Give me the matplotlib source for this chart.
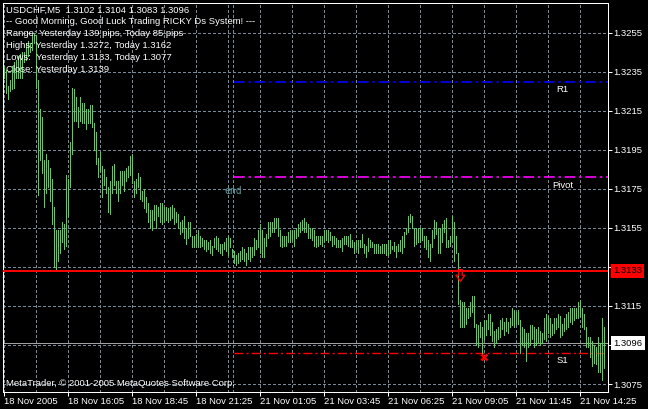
import numpy as np
import matplotlib
matplotlib.use('Agg')
import matplotlib.pyplot as plt
from matplotlib.path import Path

# M5 bars, high / low per bar (18 Nov 13:25 .. 21 Nov 15:25)
highs = [
    1.3238, 1.3236, 1.3228, 1.3231, 1.3238, 1.3240, 1.3241, 1.3243, 1.3244, 1.3245,
    1.3245, 1.3250, 1.3251, 1.3250, 1.3255, 1.3255, 1.3254, 1.3231, 1.3216, 1.3212,
    1.3190, 1.3193, 1.3190, 1.3186, 1.3180, 1.3166, 1.3154, 1.3154, 1.3154, 1.3158,
    1.3157, 1.3182, 1.3180, 1.3199, 1.3227, 1.3226, 1.3222, 1.3217, 1.3222, 1.3219,
    1.3219, 1.3216, 1.3216, 1.3218, 1.3218, 1.3209, 1.3204, 1.3191, 1.3194, 1.3187,
    1.3185, 1.3181, 1.3176, 1.3179, 1.3187, 1.3188, 1.3179, 1.3179, 1.3184, 1.3184,
    1.3184, 1.3186, 1.3187, 1.3192, 1.3193, 1.3179, 1.3180, 1.3183, 1.3181, 1.3174,
    1.3175, 1.3171, 1.3168, 1.3164, 1.3164, 1.3167, 1.3167, 1.3166, 1.3168, 1.3168,
    1.3166, 1.3166, 1.3165, 1.3166, 1.3167, 1.3165, 1.3163, 1.3162, 1.3158, 1.3159,
    1.3161, 1.3155, 1.3158, 1.3158, 1.3151, 1.3151, 1.3152, 1.3154, 1.3151, 1.3150,
    1.3149, 1.3149, 1.3148, 1.3149, 1.3146, 1.3150, 1.3151, 1.3150, 1.3147, 1.3147,
    1.3148, 1.3150, 1.3151, 1.3150, 1.3144, 1.3143, 1.3141, 1.3142, 1.3143, 1.3145,
    1.3144, 1.3142, 1.3145, 1.3145, 1.3145, 1.3150, 1.3149, 1.3154, 1.3157, 1.3154,
    1.3150, 1.3152, 1.3158, 1.3158, 1.3158, 1.3160, 1.3160, 1.3160, 1.3154, 1.3151,
    1.3151, 1.3151, 1.3153, 1.3154, 1.3154, 1.3154, 1.3155, 1.3157, 1.3158, 1.3159,
    1.3160, 1.3158, 1.3157, 1.3155, 1.3155, 1.3154, 1.3151, 1.3151, 1.3151, 1.3151,
    1.3154, 1.3154, 1.3154, 1.3153, 1.3151, 1.3151, 1.3150, 1.3149, 1.3149, 1.3150,
    1.3151, 1.3151, 1.3151, 1.3152, 1.3149, 1.3148, 1.3149, 1.3149, 1.3149, 1.3152,
    1.3147, 1.3146, 1.3150, 1.3149, 1.3148, 1.3147, 1.3147, 1.3147, 1.3146, 1.3147,
    1.3147, 1.3147, 1.3149, 1.3149, 1.3146, 1.3148, 1.3146, 1.3147, 1.3149, 1.3151,
    1.3153, 1.3155, 1.3161, 1.3162, 1.3161, 1.3155, 1.3155, 1.3155, 1.3155, 1.3155,
    1.3151, 1.3151, 1.3149, 1.3147, 1.3154, 1.3159, 1.3158, 1.3155, 1.3155, 1.3157,
    1.3159, 1.3160, 1.3149, 1.3151, 1.3161, 1.3158, 1.3151, 1.3142, 1.3118, 1.3117,
    1.3117, 1.3114, 1.3114, 1.3117, 1.3120, 1.3120, 1.3106, 1.3105, 1.3107, 1.3104,
    1.3108, 1.3108, 1.3111, 1.3111, 1.3107, 1.3102, 1.3103, 1.3104, 1.3108, 1.3109,
    1.3107, 1.3109, 1.3107, 1.3109, 1.3114, 1.3113, 1.3112, 1.3113, 1.3108, 1.3104,
    1.3103, 1.3101, 1.3101, 1.3105, 1.3105, 1.3104, 1.3103, 1.3104, 1.3102, 1.3101,
    1.3109, 1.3111, 1.3110, 1.3109, 1.3106, 1.3109, 1.3109, 1.3111, 1.3110, 1.3106,
    1.3109, 1.3111, 1.3112, 1.3114, 1.3114, 1.3114, 1.3114, 1.3117, 1.3118, 1.3114,
    1.3111, 1.3104, 1.3099, 1.3099, 1.3097, 1.3095, 1.3094, 1.3099, 1.3096, 1.3109,
    1.3104,
]
lows = [
    1.3232, 1.3224, 1.3221, 1.3225, 1.3226, 1.3227, 1.3232, 1.3232, 1.3232, 1.3232,
    1.3240, 1.3241, 1.3243, 1.3245, 1.3246, 1.3250, 1.3227, 1.3172, 1.3190, 1.3183,
    1.3166, 1.3173, 1.3176, 1.3169, 1.3157, 1.3135, 1.3133, 1.3138, 1.3142, 1.3148,
    1.3144, 1.3146, 1.3161, 1.3176, 1.3193, 1.3210, 1.3210, 1.3207, 1.3210, 1.3209,
    1.3209, 1.3206, 1.3209, 1.3209, 1.3207, 1.3195, 1.3188, 1.3181, 1.3184, 1.3171,
    1.3177, 1.3173, 1.3163, 1.3162, 1.3173, 1.3177, 1.3173, 1.3169, 1.3173, 1.3177,
    1.3174, 1.3179, 1.3181, 1.3182, 1.3178, 1.3171, 1.3173, 1.3176, 1.3170, 1.3169,
    1.3165, 1.3163, 1.3158, 1.3155, 1.3154, 1.3159, 1.3155, 1.3161, 1.3158, 1.3157,
    1.3158, 1.3159, 1.3158, 1.3159, 1.3160, 1.3157, 1.3158, 1.3155, 1.3152, 1.3153,
    1.3150, 1.3147, 1.3150, 1.3151, 1.3145, 1.3145, 1.3146, 1.3145, 1.3145, 1.3146,
    1.3144, 1.3143, 1.3144, 1.3142, 1.3141, 1.3145, 1.3144, 1.3143, 1.3142, 1.3141,
    1.3144, 1.3143, 1.3141, 1.3145, 1.3140, 1.3137, 1.3136, 1.3137, 1.3138, 1.3139,
    1.3138, 1.3136, 1.3139, 1.3138, 1.3140, 1.3141, 1.3144, 1.3145, 1.3142, 1.3140,
    1.3140, 1.3146, 1.3150, 1.3151, 1.3153, 1.3153, 1.3155, 1.3151, 1.3146, 1.3145,
    1.3146, 1.3146, 1.3148, 1.3148, 1.3149, 1.3146, 1.3150, 1.3151, 1.3153, 1.3154,
    1.3153, 1.3153, 1.3150, 1.3150, 1.3149, 1.3146, 1.3145, 1.3146, 1.3147, 1.3146,
    1.3148, 1.3149, 1.3148, 1.3149, 1.3146, 1.3147, 1.3145, 1.3145, 1.3145, 1.3143,
    1.3147, 1.3147, 1.3146, 1.3145, 1.3145, 1.3142, 1.3144, 1.3142, 1.3145, 1.3145,
    1.3142, 1.3140, 1.3143, 1.3145, 1.3145, 1.3142, 1.3142, 1.3142, 1.3142, 1.3142,
    1.3142, 1.3141, 1.3141, 1.3142, 1.3144, 1.3143, 1.3140, 1.3143, 1.3143, 1.3142,
    1.3145, 1.3152, 1.3153, 1.3158, 1.3155, 1.3146, 1.3147, 1.3148, 1.3148, 1.3149,
    1.3145, 1.3144, 1.3140, 1.3138, 1.3145, 1.3150, 1.3152, 1.3142, 1.3142, 1.3148,
    1.3153, 1.3145, 1.3145, 1.3146, 1.3148, 1.3138, 1.3142, 1.3116, 1.3104, 1.3104,
    1.3104, 1.3106, 1.3109, 1.3110, 1.3112, 1.3104, 1.3095, 1.3094, 1.3099, 1.3090,
    1.3098, 1.3100, 1.3103, 1.3100, 1.3097, 1.3094, 1.3096, 1.3098, 1.3099, 1.3103,
    1.3100, 1.3102, 1.3101, 1.3104, 1.3105, 1.3104, 1.3106, 1.3106, 1.3091, 1.3095,
    1.3094, 1.3087, 1.3094, 1.3095, 1.3098, 1.3094, 1.3095, 1.3096, 1.3095, 1.3096,
    1.3098, 1.3097, 1.3101, 1.3099, 1.3100, 1.3101, 1.3103, 1.3104, 1.3099, 1.3100,
    1.3102, 1.3103, 1.3104, 1.3107, 1.3106, 1.3108, 1.3109, 1.3109, 1.3110, 1.3104,
    1.3103, 1.3094, 1.3094, 1.3089, 1.3084, 1.3086, 1.3085, 1.3081, 1.3081, 1.3077,
    1.3083,
]

time_labels = ['18 Nov 2005', '18 Nov 16:05', '18 Nov 18:45', '18 Nov 21:25',
               '21 Nov 01:05', '21 Nov 03:45', '21 Nov 06:25', '21 Nov 09:05',
               '21 Nov 11:45', '21 Nov 14:25']
price_ticks = [1.3075, 1.3095, 1.3115, 1.3135, 1.3155, 1.3175, 1.3195, 1.3215, 1.3235, 1.3255]

day_start = 115          # first bar of 21 Nov
pivot, r1, s1 = 1.3181, 1.3230, 1.3091
yesterday_low = 1.3133
bid = 1.3096
sell_signal = (228, 1.3131)
stop_mark = (240, 1.3089)

header = [
    'USDCHF,M5  1.3102 1.3104 1.3083 1.3096',
    '-- Good Morning, Good Luck Trading RICKY Ds System! ---',
    'Range: Yesterday 139 pips, Today 85 pips',
    'Highs: Yesterday 1.3272, Today 1.3162',
    'Lows:  Yesterday 1.3133, Today 1.3077',
    'Close: Yesterday 1.3139',
]

W, H = 648, 409
PT = 0.72  # points per pixel at dpi 100
plt.rcParams['font.family'] = ['Liberation Sans', 'DejaVu Sans']
fs = 6.8
grid_col = '#778899'
bar_col = '#3ee23e'

fig = plt.figure(figsize=(W / 100, H / 100), dpi=100, facecolor='black')
ax = fig.add_axes([2.7 / W, 17 / H, 605.3 / W, 389.3 / H], facecolor='black')

idx = np.arange(len(highs))
ax.vlines(idx, lows, highs, colors=bar_col, linewidth=PT, antialiased=False, zorder=3)

x_right = 302.25
ax.set_xlim(-0.4, x_right)
ax.set_ylim(1.30709, 1.32705)

# grid
ax.set_xticks(np.arange(len(time_labels)) * 32)
ax.set_xticklabels(time_labels)
ax.set_xticks(np.arange(16, 300, 32), minor=True)
ax.set_yticks(price_ticks)
ax.set_yticklabels(['%.4f' % p for p in price_ticks])
ax.grid(True, which='both', color=grid_col, linestyle=(0, (2.2, 2.2)), linewidth=PT, antialiased=False)
ax.axvline(day_start - 0.1, color=grid_col, linestyle=(0, (2.2, 2.2)), linewidth=PT, antialiased=False)

ax.yaxis.tick_right()
ax.tick_params(axis='y', which='major', colors='white', labelcolor='white', length=4 * PT,
               width=PT, pad=1.2, labelsize=fs)
ax.tick_params(axis='x', which='major', colors='white', labelcolor='white', length=4 * PT,
               width=PT, pad=0.5, labelsize=fs)
ax.tick_params(axis='x', which='minor', length=0)
for lab in ax.get_xticklabels():
    lab.set_horizontalalignment('left')
for sp in ax.spines.values():
    sp.set_color('white')
    sp.set_linewidth(PT)

# level lines
ax.axhline(yesterday_low, color='red', linewidth=1.4, zorder=4)
ax.axhline(bid, color='#a0a0a0', linewidth=PT, zorder=2)
dashdot = (0, (6.5, 2.2, 1.5, 2.2))
ax.hlines(r1, day_start, x_right, colors='#0000ff', linewidth=1.2, linestyles=[dashdot], zorder=2)
ax.hlines(pivot, day_start, x_right, colors='#ff00ff', linewidth=1.2, linestyles=[dashdot], zorder=2)
ax.hlines(s1, day_start, x_right, colors='#ff0000', linewidth=1.0, linestyles=[dashdot], zorder=2)

for name, lvl in [('R1', r1), ('Pivot', pivot), ('S1', s1)]:
    ax.annotate(name, xy=(279.5, lvl), xytext=(0, -2.5), textcoords='offset points',
                ha='center', va='top', color='white', fontsize=fs, zorder=5)

ax.text(day_start, 1.3174, 'end', ha='center', va='center', color='#5f9ea0',
        fontsize=7, family='DejaVu Sans Mono', zorder=5)

# signal markers
arrow = Path([(-0.3, 1), (0.3, 1), (0.3, 0.05), (0.75, 0.05), (0, -1),
              (-0.75, 0.05), (-0.3, 0.05), (-0.3, 1)], closed=True)
ax.plot(*sell_signal, marker=arrow, markersize=8.5, markerfacecolor='none',
        markeredgecolor='red', markeredgewidth=1.0, linestyle='none', zorder=6)
ax.plot(*stop_mark, marker='x', markersize=5, markeredgecolor='red',
        markeredgewidth=1.8, linestyle='none', zorder=6)

# price boxes on the scale
ax.text(1.0085, yesterday_low, '%.4f' % yesterday_low, transform=ax.get_yaxis_transform(),
        ha='left', va='center', color='black', fontsize=fs, clip_on=False, zorder=7,
        bbox=dict(boxstyle='square,pad=0.25', fc='red', ec='none'))
ax.text(1.0085, bid, '%.4f' % bid, transform=ax.get_yaxis_transform(),
        ha='left', va='center', color='black', fontsize=fs, clip_on=False, zorder=7,
        bbox=dict(boxstyle='square,pad=0.25', fc='white', ec='none'))

# info text
line_y = [10.5, 21, 33, 45, 57, 69]
for s, yy in zip(header, line_y):
    fig.text(6.5 / W, 1 - yy / H, s, color='white', fontsize=fs, va='center', ha='left', zorder=8)
fig.text(6 / W, 1 - 383.5 / H, 'MetaTrader, \u00a9 2001-2005 MetaQuotes Software Corp.',
         color='white', fontsize=fs, va='center', ha='left', zorder=8)

fig.savefig('out.png', dpi=100, facecolor='black')
